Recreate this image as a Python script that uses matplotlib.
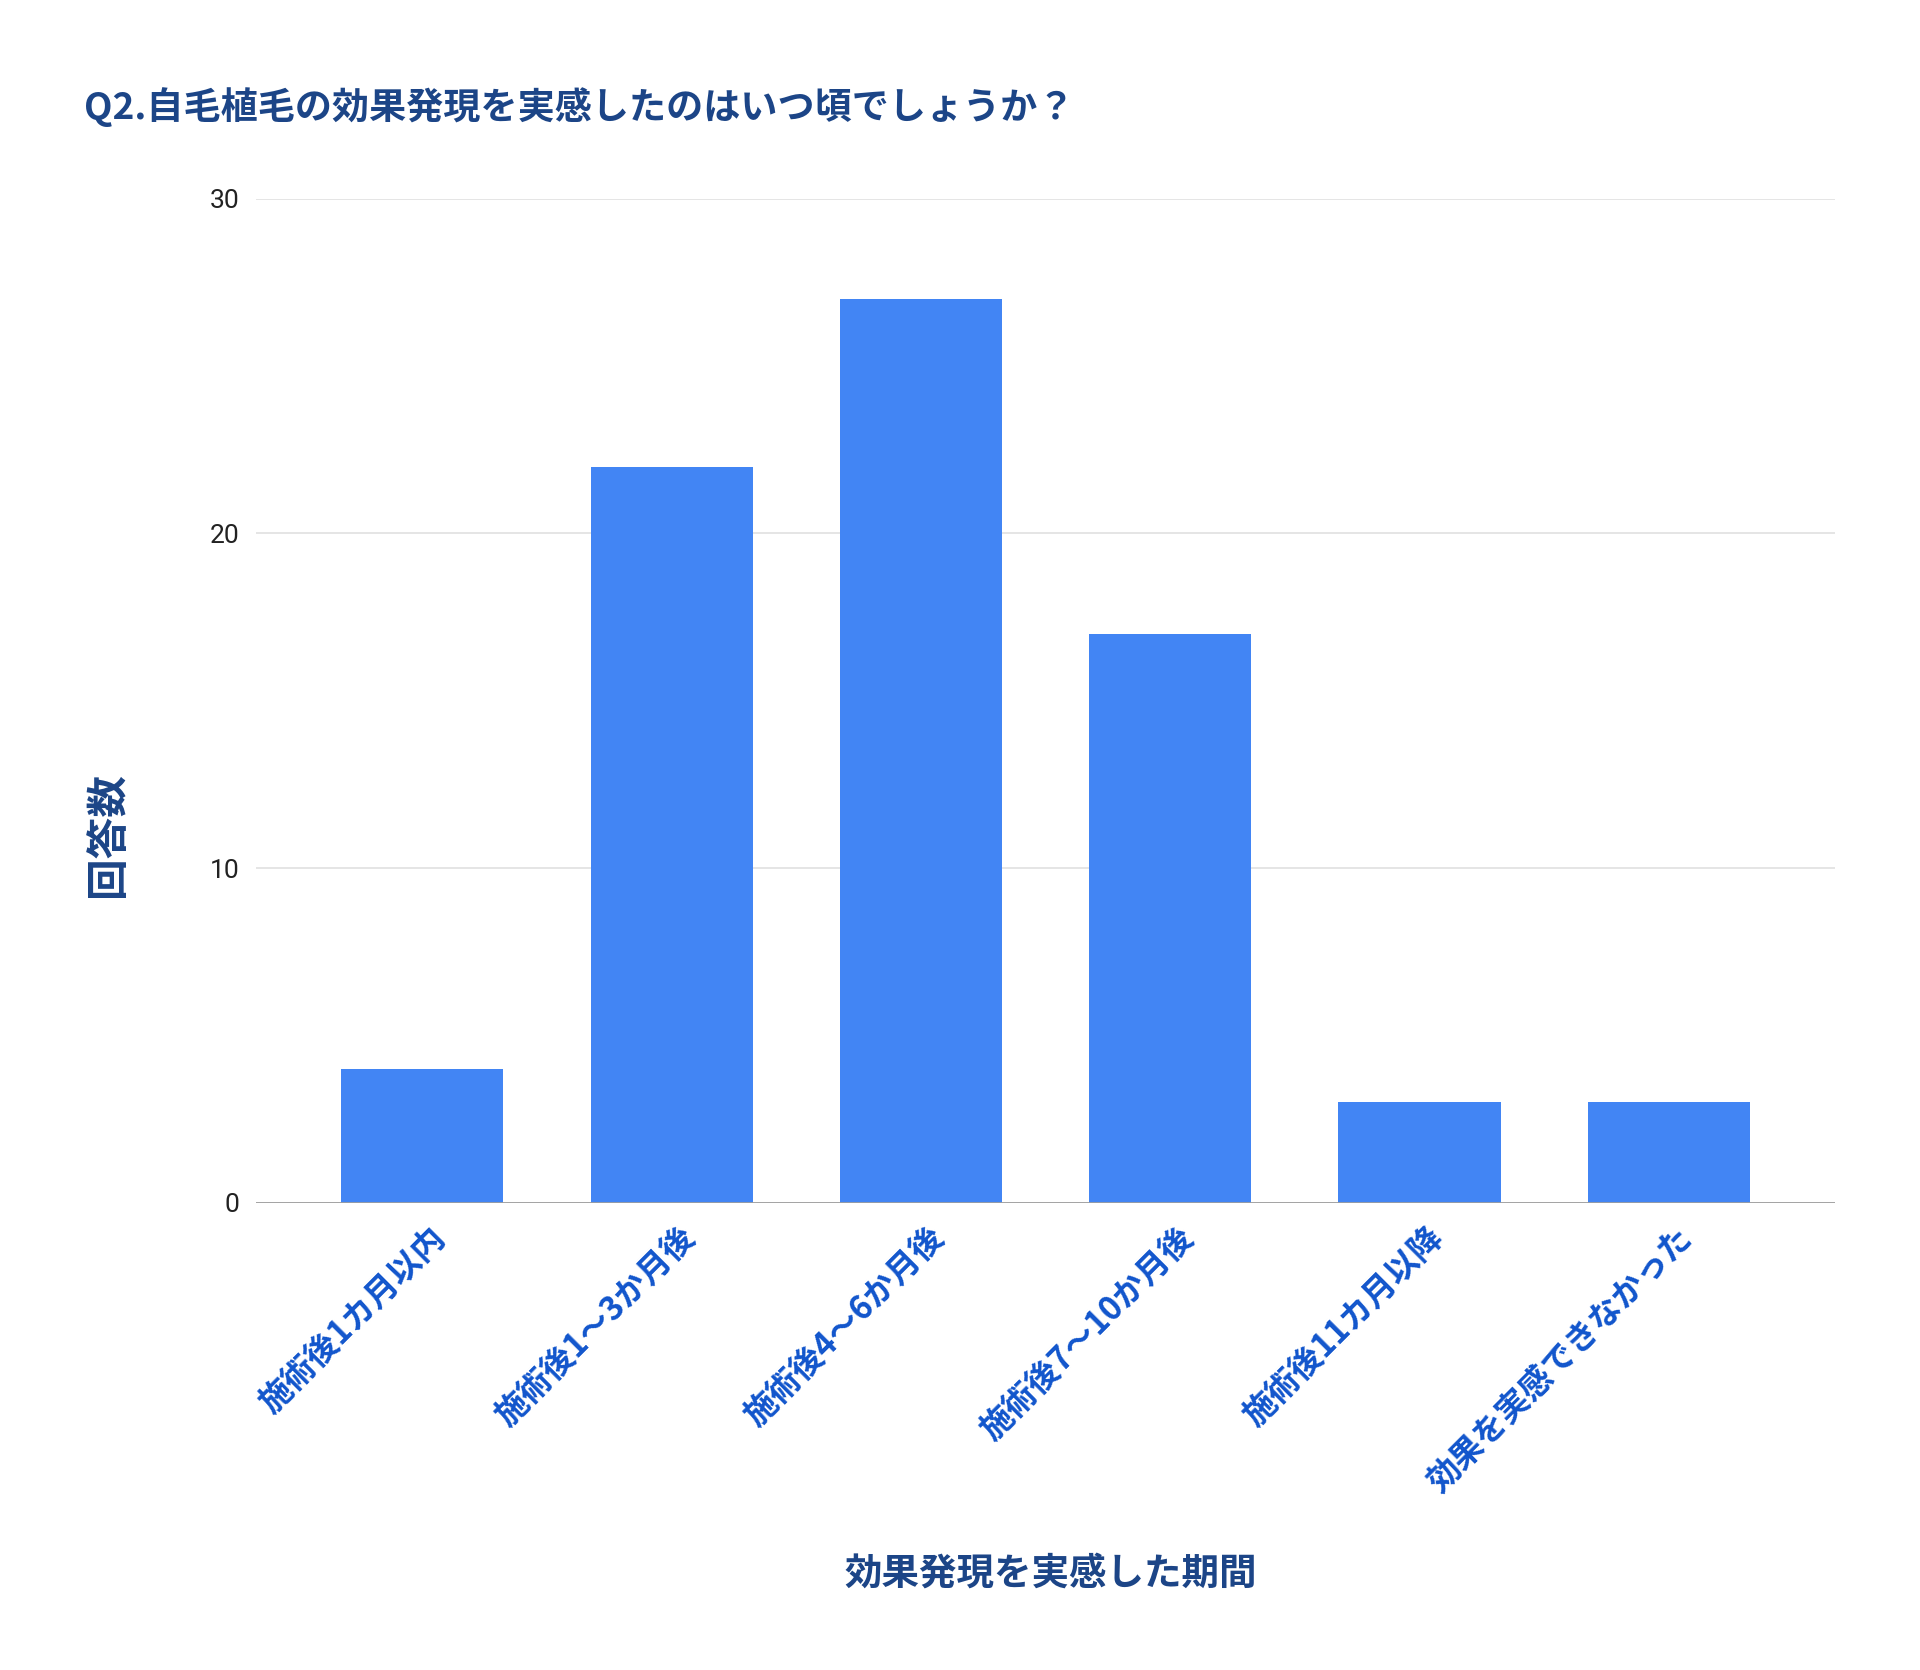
import matplotlib
matplotlib.use('Agg')
import matplotlib.pyplot as plt
from matplotlib.transforms import ScaledTranslation

plt.rcParams['font.family'] = ['Noto Sans CJK JP', 'DejaVu Sans']

# データ
categories = ['施術後1カ月以内', '施術後1～3か月後', '施術後4～6か月後',
              '施術後7～10か月後', '施術後11カ月以降', '効果を実感できなかった']
counts = [4, 22, 27, 17, 3, 3]
y_ticks = [0, 10, 20, 30]

title_color = '#1c4587'
label_color = '#1155cc'
bar_color = '#4285f4'

fig = plt.figure(figsize=(19.2, 16.7), dpi=100)
ax = fig.add_axes([0.1333, 0.2797, 0.8225, 0.6013])

x = range(len(categories))
ax.bar(x, counts, width=0.65, color=bar_color, zorder=3)

ax.set_xlim(-0.667, len(categories) - 1 + 0.667)
ax.set_ylim(0, 30)
ax.set_yticks(y_ticks)
ax.set_yticklabels([str(v) for v in y_ticks], family='Roboto', fontsize=19, color='#222222')
ax.grid(axis='y', color='#e3e3e3', linewidth=1.3, zorder=0)
ax.axhline(0, color='#9e9e9e', linewidth=2, zorder=4)

for s in ax.spines.values():
    s.set_visible(False)
ax.tick_params(axis='both', length=0)
ax.tick_params(axis='y', pad=12)

ax.set_xticks(list(x))
ax.set_xticklabels(categories, rotation=45, ha='right', va='center',
                   rotation_mode='anchor', fontsize=23.5, fontweight='bold', color=label_color)
ax.tick_params(axis='x', pad=0)
offset = ScaledTranslation(0.18, -0.30, fig.dpi_scale_trans)
for lbl in ax.get_xticklabels():
    lbl.set_transform(lbl.get_transform() + offset)

# タイトル・軸ラベル
fig.text(0.04375, 0.936, 'Q2.自毛植毛の効果発現を実感したのはいつ頃でしょうか？',
         fontsize=26.7, fontweight='bold', color=title_color, va='center', ha='left')
fig.text(0.547, 0.058, '効果発現を実感した期間', fontsize=27, fontweight='bold',
         color=title_color, ha='center', va='center')
fig.text(0.05625, 0.5, '回答数', fontsize=30, fontweight='bold', color=title_color,
         rotation=90, ha='center', va='center')

fig.savefig('out.png', dpi=100, facecolor='white')
